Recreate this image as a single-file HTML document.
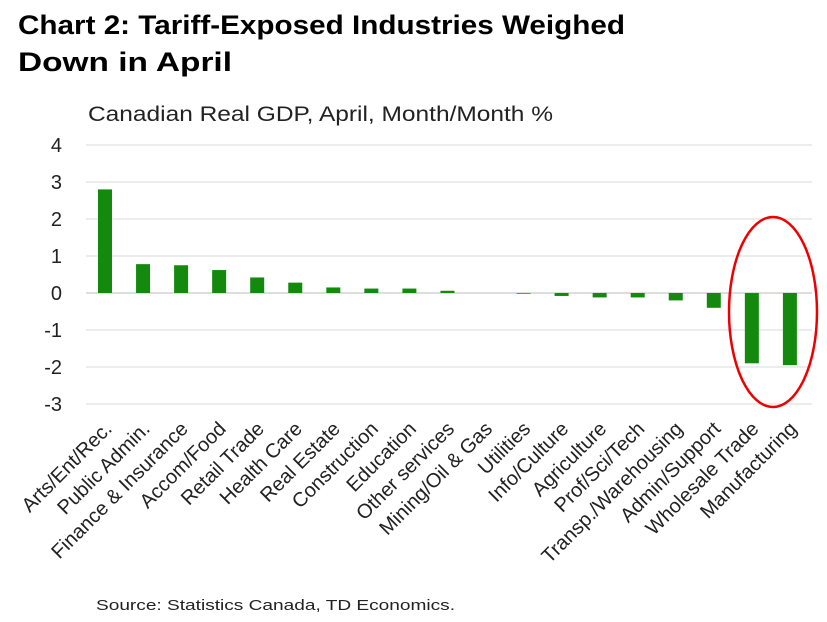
<!DOCTYPE html>
<html><head><meta charset="utf-8"><style>
body{margin:0;background:#fff;}
svg text{font-family:"Liberation Sans",sans-serif;}
</style></head><body>
<svg width="827" height="617" xmlns="http://www.w3.org/2000/svg">
<text x="18" y="34" font-size="27" font-weight="bold" fill="#000" textLength="607" lengthAdjust="spacingAndGlyphs">Chart 2: Tariff-Exposed Industries Weighed</text>
<text x="18" y="71" font-size="27" font-weight="bold" fill="#000" textLength="214" lengthAdjust="spacingAndGlyphs">Down in April</text>
<text x="88" y="121" font-size="21" fill="#222" textLength="465" lengthAdjust="spacingAndGlyphs">Canadian Real GDP, April, Month/Month %</text>
<g id="grid"></g><g id="bars"></g><g id="xl"></g>
<ellipse cx="773" cy="312" rx="44" ry="95" fill="none" stroke="#e00" stroke-width="2.5"/>
<text x="96" y="610" font-size="15" fill="#222" textLength="359" lengthAdjust="spacingAndGlyphs">Source: Statistics Canada, TD Economics.</text>
</svg>
<script>
const categories=["Arts/Ent/Rec.","Public Admin.","Finance & Insurance","Accom/Food","Retail Trade","Health Care","Real Estate","Construction","Education","Other services","Mining/Oil & Gas","Utilities","Info/Culture","Agriculture","Prof/Sci/Tech","Transp./Warehousing","Admin/Support","Wholesale Trade","Manufacturing"];
const values=[2.8,0.78,0.75,0.62,0.42,0.28,0.15,0.12,0.12,0.06,0,-0.02,-0.08,-0.12,-0.12,-0.2,-0.4,-1.9,-1.95];
const yTicks=[4,3,2,1,0,-1,-2,-3];
const NS="http://www.w3.org/2000/svg";
const y=v=>293-v*37;
const x=i=>105+i*38.05;
const g=document.getElementById('grid'),b=document.getElementById('bars'),xl=document.getElementById('xl');
yTicks.forEach(t=>{
 const l=document.createElementNS(NS,'line');
 
 
 l.setAttribute('x1',86);l.setAttribute('x2',812);l.setAttribute('y1',y(t));l.setAttribute('y2',y(t));
 l.setAttribute('stroke',t===0?'#bbb':'#d9d9d9');l.setAttribute('stroke-width',1);
 g.appendChild(l);
 const tx=document.createElementNS(NS,'text');
 
 
 tx.setAttribute('x',62);tx.setAttribute('y',y(t)+7);tx.setAttribute('font-size',20);tx.setAttribute('text-anchor','end');tx.setAttribute('fill','#222');
 tx.textContent=t;g.appendChild(tx);
});
values.forEach((v,i)=>{
 const r=document.createElementNS(NS,'rect');
 
 
 r.setAttribute('x',x(i)-7);r.setAttribute('width',14);
 r.setAttribute('y',Math.min(y(v),y(0)));r.setAttribute('height',Math.abs(y(v)-y(0)));
 r.setAttribute('fill','#138a0d');b.appendChild(r);
 const t=document.createElementNS(NS,'text');
 
 
 t.setAttribute('font-size',20);t.setAttribute('text-anchor','end');t.setAttribute('fill','#222');
 t.setAttribute('transform',`translate(${x(i)+8},${430}) rotate(-45)`);
 t.textContent=categories[i];xl.appendChild(t);
});
</script>
</body></html>
